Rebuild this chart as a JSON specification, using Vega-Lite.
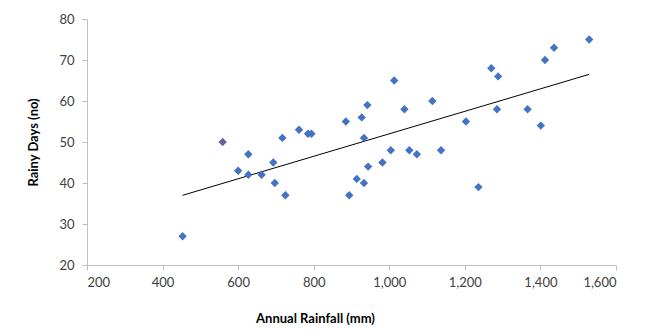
{
  "$schema": "https://vega.github.io/schema/vega-lite/v6.json",
  "autosize": "none",
  "width": 529,
  "height": 246,
  "padding": {"left": 87, "top": 19, "right": 46, "bottom": 66},
  "background": "white",
  "config": {
    "view": {"stroke": null},
    "font": "Lato",
    "axis": {
      "grid": false,
      "domainColor": "#bfbfbf",
      "tickColor": "#bfbfbf",
      "labelColor": "#404040",
      "labelFontSize": 13,
      "labelFont": "Lato",
      "titleFont": "Lato",
      "titleFontSize": 13,
      "titleFontWeight": "bold",
      "titleColor": "#000000",
      "tickSize": 5
    }
  },
  "datasets": {
    "points": [
      {"rainfall": 453, "days": 27, "group": "a"},
      {"rainfall": 559, "days": 50, "group": "b"},
      {"rainfall": 600, "days": 43, "group": "a"},
      {"rainfall": 627, "days": 42, "group": "a"},
      {"rainfall": 627, "days": 47, "group": "a"},
      {"rainfall": 662, "days": 42, "group": "a"},
      {"rainfall": 693, "days": 45, "group": "a"},
      {"rainfall": 697, "days": 40, "group": "a"},
      {"rainfall": 717, "days": 51, "group": "a"},
      {"rainfall": 725, "days": 37, "group": "a"},
      {"rainfall": 761, "days": 53, "group": "a"},
      {"rainfall": 785, "days": 52, "group": "a"},
      {"rainfall": 794, "days": 52, "group": "a"},
      {"rainfall": 885, "days": 55, "group": "a"},
      {"rainfall": 894, "days": 37, "group": "a"},
      {"rainfall": 914, "days": 41, "group": "a"},
      {"rainfall": 927, "days": 56, "group": "a"},
      {"rainfall": 933, "days": 40, "group": "a"},
      {"rainfall": 933, "days": 51, "group": "a"},
      {"rainfall": 942, "days": 59, "group": "a"},
      {"rainfall": 944, "days": 44, "group": "a"},
      {"rainfall": 982, "days": 45, "group": "a"},
      {"rainfall": 1004, "days": 48, "group": "a"},
      {"rainfall": 1013, "days": 65, "group": "a"},
      {"rainfall": 1040, "days": 58, "group": "a"},
      {"rainfall": 1053, "days": 48, "group": "a"},
      {"rainfall": 1073, "days": 47, "group": "a"},
      {"rainfall": 1114, "days": 60, "group": "a"},
      {"rainfall": 1137, "days": 48, "group": "a"},
      {"rainfall": 1203, "days": 55, "group": "a"},
      {"rainfall": 1236, "days": 39, "group": "a"},
      {"rainfall": 1270, "days": 68, "group": "a"},
      {"rainfall": 1288, "days": 66, "group": "a"},
      {"rainfall": 1285, "days": 58, "group": "a"},
      {"rainfall": 1366, "days": 58, "group": "a"},
      {"rainfall": 1401, "days": 54, "group": "a"},
      {"rainfall": 1412, "days": 70, "group": "a"},
      {"rainfall": 1436, "days": 73, "group": "a"},
      {"rainfall": 1529, "days": 75, "group": "a"}
    ],
    "trend": [
      {"rainfall": 453, "days": 37.0},
      {"rainfall": 1529, "days": 66.5}
    ]
  },
  "layer": [
    {
      "data": {"name": "trend"},
      "mark": {"type": "line", "color": "#000000", "strokeWidth": 1},
      "encoding": {
        "x": {"field": "rainfall", "type": "quantitative", "scale": {"domain": [200, 1600], "nice": false},
          "axis": {"values": [200, 400, 600, 800, 1000, 1200, 1400, 1600], "format": ",.0f", "title": "Annual Rainfall  (mm)", "titleX": 228, "titleY": 47, "labelPadding": 6}},
        "y": {"field": "days", "type": "quantitative", "scale": {"domain": [20, 80], "nice": false},
          "axis": {"values": [20, 30, 40, 50, 60, 70, 80], "format": "d", "title": "Rainy Days (no)", "titlePadding": 18, "labelPadding": 8}}
      }
    },
    {
      "data": {"name": "points"},
      "mark": {"type": "point", "shape": "diamond", "filled": true, "size": 70, "opacity": 1},
      "encoding": {
        "x": {"field": "rainfall", "type": "quantitative"},
        "y": {"field": "days", "type": "quantitative"},
        "color": {"field": "group", "type": "nominal", "scale": {"domain": ["a", "b"], "range": ["#4472c4", "#6b5f9e"]}, "legend": null}
      }
    },
    {
      "mark": {"type": "text", "fontSize": 12.5, "color": "#000000", "align": "center", "baseline": "middle", "font": "Lato", "text": "y = 0.0274x + 24.605"},
      "encoding": {
        "x": {"datum": 528, "type": "quantitative"},
        "y": {"datum": 71.5, "type": "quantitative"}
      }
    },
    {
      "mark": {"type": "text", "fontSize": 12.5, "color": "#000000", "align": "center", "baseline": "middle", "font": "Lato", "text": "R² = 0.4953"},
      "encoding": {
        "x": {"datum": 528, "type": "quantitative"},
        "y": {"datum": 67.4, "type": "quantitative"}
      }
    }
  ]
}
